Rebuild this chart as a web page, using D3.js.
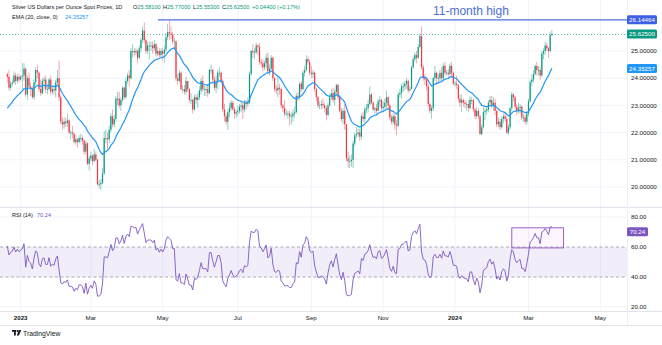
<!DOCTYPE html>
<html>
<head>
<meta charset="utf-8">
<script src="https://cdn.jsdelivr.net/npm/d3@7"></script>
<style>
  body { margin: 0; background: #ffffff; }
  svg { display: block; }
  text { font-family: "Liberation Sans", Arial, sans-serif; }
</style>
</head>
<body>
<svg id="chart" width="662" height="345"></svg>
<script>
// ---- Silver spot (XAG/USD), daily bars, one entry per weekday from 2022-12-21 ----
const startDate = "2022-12-21";
const firstOpen = 24.15;

const closes = [
  24.05,23.65,23.80,23.85,24.10,23.90,24.05,23.95,
  24.05,24.10,24.35,23.40,24.00,23.70,23.60,23.30,23.85,24.30,24.20,23.60,23.45,23.90,23.95,23.60,23.60,23.95,23.50,23.60,23.55,23.85,
  24.00,23.30,22.40,22.30,22.40,22.35,22.45,22.00,22.00,21.95,21.65,21.75,21.65,21.80,21.80,21.70,21.30,21.60,20.85,21.05,
  21.15,20.95,21.20,21.00,20.10,20.10,20.15,20.50,21.80,21.80,21.75,22.10,22.60,22.30,22.50,23.25,23.25,23.00,23.20,23.65,23.30,23.90,24.10,
  24.00,25.00,25.00,24.95,25.00,24.75,25.10,25.40,25.75,25.40,25.00,25.20,25.20,25.20,25.10,25.25,24.90,25.00,24.85,25.00,
  24.90,25.05,25.50,25.70,25.65,25.60,25.35,25.35,24.00,23.90,24.20,23.60,23.60,23.50,23.90,23.60,23.20,23.20,22.85,23.30,23.20,23.30,23.55,
  23.90,23.60,23.60,23.60,23.45,24.30,24.30,23.95,23.65,23.90,24.20,24.20,23.90,22.85,22.60,22.40,22.75,22.90,23.10,22.85,22.70,22.75,
  22.80,22.95,23.00,22.85,23.10,23.05,23.10,24.15,25.00,24.95,24.95,25.20,25.15,24.60,24.55,24.40,24.55,24.75,24.25,24.35,24.75,
  24.00,23.60,23.55,23.65,23.60,23.00,22.90,22.70,22.70,22.70,22.60,22.60,22.70,22.75,23.35,23.30,23.80,23.60,24.20,24.30,24.70,24.60,24.20,
  24.15,24.20,23.60,23.30,23.00,23.00,23.05,23.00,22.90,22.65,23.00,23.30,23.45,23.20,23.50,23.75,23.30,22.80,22.50,22.80,22.30,
  21.05,20.95,20.95,21.00,21.60,21.90,21.95,22.00,21.85,22.60,22.50,22.85,22.90,23.05,23.40,23.10,22.85,22.90,22.80,23.15,23.20,22.90,
  22.95,23.10,23.30,23.00,22.55,22.40,22.60,22.30,22.25,23.40,23.45,23.70,23.70,23.80,23.90,23.55,23.60,24.40,24.70,24.85,24.75,25.15,
  25.55,24.40,24.00,23.95,23.70,23.05,22.80,22.90,24.00,24.20,24.00,24.00,24.20,24.00,24.45,24.20,24.20,24.15,24.45,24.20,23.80,
  23.80,23.75,23.25,23.10,23.20,23.10,23.05,23.05,22.90,23.20,23.20,22.85,22.60,22.80,22.60,21.95,22.20,22.75,22.80,22.85,23.10,23.20,23.00,
  23.10,22.80,22.30,22.40,22.20,22.50,22.60,22.50,22.00,22.20,22.90,23.40,23.30,22.95,22.80,22.90,22.95,22.55,22.55,22.40,22.70,
  23.15,23.85,23.95,24.15,24.45,24.30,24.30,24.10,24.90,25.00,25.20,25.10,25.00,25.581,25.625
];

const highs = [
  24.20,24.30,23.90,23.95,24.25,24.20,24.15,24.15,
  24.10,24.55,24.55,24.40,24.10,24.20,23.85,23.70,23.95,24.40,24.50,24.25,23.95,24.00,24.05,24.10,23.80,24.00,24.10,23.75,23.75,23.95,
  24.30,24.65,23.40,22.55,22.55,22.55,22.70,22.50,22.10,22.25,22.00,21.90,21.80,21.90,21.95,21.90,21.75,21.70,21.65,21.15,
  21.30,21.20,21.40,21.30,21.05,20.25,20.30,20.70,22.05,22.10,22.00,22.25,22.70,22.85,22.65,23.35,23.50,23.50,23.30,23.70,23.70,24.00,24.20,
  24.30,25.10,25.25,25.10,25.10,25.05,25.20,25.50,25.90,26.05,25.45,25.35,25.35,25.35,25.35,25.40,25.30,25.15,25.10,25.10,
  25.10,25.20,25.65,26.00,26.14,25.90,25.70,25.50,25.40,24.15,24.30,24.25,23.75,23.75,24.05,23.90,23.65,23.45,23.25,23.40,23.40,23.45,23.70,
  24.00,24.10,23.75,23.70,23.80,24.35,24.50,24.35,24.05,24.10,24.30,24.40,24.25,23.95,23.05,22.70,22.85,23.10,23.20,23.15,22.95,22.85,
  23.00,23.05,23.15,23.10,23.20,23.20,23.30,24.25,25.05,25.25,25.10,25.30,25.25,25.30,24.70,24.70,24.65,24.90,24.95,24.50,24.85,
  24.80,24.05,23.75,24.05,23.80,23.65,23.05,23.20,22.85,22.80,22.80,22.75,22.85,22.95,23.45,23.50,23.85,23.90,24.30,24.45,24.85,24.80,24.70,
  24.45,24.30,24.25,23.65,23.35,23.15,23.20,23.25,23.10,23.00,23.10,23.45,23.60,23.65,23.60,23.80,23.80,23.35,22.90,22.90,23.05,
  22.30,21.30,21.15,21.20,21.70,22.00,22.20,22.15,22.15,22.70,22.75,22.95,23.05,23.20,23.70,23.45,23.15,22.95,23.05,23.25,23.35,23.25,
  23.15,23.25,23.55,23.35,23.05,22.65,22.70,22.70,22.45,23.50,23.60,23.80,23.85,23.90,24.00,23.95,23.70,24.45,24.80,24.95,25.00,25.25,
  25.65,25.90,24.50,24.15,24.05,23.80,23.10,23.00,24.05,24.45,24.25,24.15,24.30,24.40,24.55,24.60,24.30,24.35,24.55,24.60,24.25,
  23.90,24.10,23.80,23.40,23.40,23.25,23.20,23.15,23.20,23.35,23.30,23.25,22.90,22.95,22.90,22.65,22.30,22.95,22.90,22.95,23.20,23.35,23.35,
  23.30,23.25,22.85,22.55,22.50,22.60,22.70,22.75,22.60,22.30,22.95,23.50,23.45,23.35,23.05,23.10,23.05,23.00,22.70,22.65,22.80,
  23.25,23.95,24.15,24.30,24.50,24.60,24.45,24.40,25.00,25.10,25.35,25.30,25.15,25.70,25.77
];

const lows = [
  23.85,23.55,23.55,23.70,23.80,23.75,23.80,23.85,
  23.90,23.60,23.90,23.30,23.20,23.60,23.35,23.25,23.20,23.75,24.00,23.50,23.35,23.40,23.55,23.45,23.40,23.55,23.40,23.40,23.40,23.30,
  23.70,23.15,22.30,22.10,22.15,22.20,22.20,21.95,21.75,21.80,21.60,21.55,21.45,21.60,21.65,21.55,21.20,21.20,20.80,20.60,
  20.95,20.80,20.90,20.95,20.05,19.95,19.90,20.10,20.45,21.60,21.40,21.60,22.00,22.20,22.20,22.40,23.00,22.90,22.80,23.10,23.20,23.25,23.80,
  23.70,23.95,24.75,24.80,24.85,24.55,24.70,24.95,25.30,25.30,24.90,24.90,24.70,25.00,24.90,25.00,24.80,24.80,24.75,24.75,
  24.65,24.55,24.95,25.40,25.40,25.45,25.25,25.05,23.90,23.75,23.85,23.55,23.45,23.40,23.40,23.50,23.10,23.05,22.70,22.80,23.05,22.90,23.20,
  23.40,23.50,23.35,23.35,23.30,23.40,24.15,23.85,23.55,23.45,23.60,24.05,23.80,22.75,22.40,22.30,22.10,22.55,22.80,22.80,22.50,22.55,
  22.60,22.70,22.75,22.50,22.75,22.85,22.95,23.05,24.10,24.75,24.70,24.90,24.85,24.50,24.40,24.25,24.30,24.35,24.15,24.10,24.30,
  23.90,23.50,23.40,23.30,23.40,22.90,22.75,22.60,22.60,22.50,22.25,22.30,22.40,22.55,22.70,23.15,23.20,23.50,23.55,24.05,24.25,24.50,24.10,
  24.00,24.00,23.50,23.15,22.90,22.85,22.85,22.90,22.75,22.45,22.60,22.95,23.20,23.10,23.00,23.35,23.20,22.75,22.40,22.30,22.10,
  20.95,20.70,20.70,20.75,20.70,21.50,21.80,21.85,21.70,21.75,22.40,22.35,22.70,22.75,23.00,23.05,22.80,22.70,22.70,22.80,22.95,22.80,
  22.75,22.85,22.90,22.85,22.45,22.30,22.30,22.10,21.90,22.20,23.30,23.25,23.50,23.55,23.60,23.45,23.50,23.60,24.35,24.60,24.55,24.70,
  25.10,24.30,23.90,23.75,23.55,22.95,22.70,22.50,22.80,23.90,23.75,23.80,23.85,23.90,23.95,24.10,24.10,24.05,24.10,24.05,23.75,
  23.70,23.60,23.10,22.95,22.75,22.95,22.90,22.80,22.75,22.85,23.05,22.75,22.50,22.50,22.50,21.90,21.90,22.15,22.45,22.65,22.75,23.00,22.90,
  22.80,22.65,22.20,22.20,22.10,22.15,22.35,22.40,21.95,21.90,22.10,22.80,23.15,22.85,22.65,22.70,22.70,22.45,22.40,22.30,22.30,
  22.60,23.10,23.70,23.85,24.10,24.10,24.10,23.95,24.05,24.70,24.85,25.00,24.75,24.95,25.553
];

// Indicator starting state on the first bar
const emaLength = 20, emaSeed = 22.90;
const rsiLength = 14, rsiSeedGain = 0.17, rsiSeedLoss = 0.11;

// Axis ticks and labels
const priceTicks = [20, 21, 22, 23, 24, 25];
const rsiTicks = [20, 40, 60, 80];
const monthStarts = ["2023-01-02","2023-03-01","2023-05-01","2023-07-03","2023-09-01","2023-11-01","2024-01-01","2024-03-01","2024-05-01"];
const monthLabels = ["2023","Mar","May","Jul","Sep","Nov","2024","Mar","May"];
const yearLabels = ["2023","2024"];

// Legend / marker values
const legendTitle = "Silver US Dollars per Ounce Spot Prices, 1D";
const ohlcLegend = [["O","25.58100"],["H","25.77000"],["L","25.55300"],["C","25.62500"]];
const changeText = "+0.04400 (+0.17%)";
const highLevel = 26.14464, highLabel = "26.14464";
const lastPrice = 25.625, lastPriceLabel = "25.62500";
const emaLast = 24.35257, emaLastLabel = "24.35257";
const rsiLast = 70.24, rsiLastLabel = "70.24";
const annotation = "11-month high";
const boxRsi = { from: "2024-02-16", to: "2024-04-01", top: 72.8, bottom: 59.4 };

// ---- build bars ----
const parse = d3.utcParse("%Y-%m-%d"), fmt = d3.utcFormat("%Y-%m-%d");
const days = d3.utcDays(parse(startDate), parse("2024-06-01")).filter(d => d.getUTCDay() % 6 !== 0);
const dayIndex = new Map(days.map((d, i) => [fmt(d), i]));

const bars = closes.map((c, i) => {
  const o = i === 0 ? firstOpen : closes[i - 1];
  return { i, o, c, h: Math.max(highs[i], o, c), l: Math.min(lows[i], o, c) };
});

// EMA(20)
const ema = [];
closes.forEach((c, i) => {
  const k = 2 / (emaLength + 1);
  ema.push(i === 0 ? emaSeed : ema[i - 1] + k * (c - ema[i - 1]));
});

// RSI(14), Wilder smoothing
const rsi = [];
let ag = rsiSeedGain, al = rsiSeedLoss;
closes.forEach((c, i) => {
  if (i > 0) {
    const ch = c - closes[i - 1];
    ag = (ag * (rsiLength - 1) + Math.max(ch, 0)) / rsiLength;
    al = (al * (rsiLength - 1) + Math.max(-ch, 0)) / rsiLength;
  }
  rsi.push(100 - 100 / (1 + ag / al));
});

// ---- layout ----
const W = 662, H = 345;
const plotR = 627, mainBottom = 207, rsiBottom = 311, axisBottom = 325;
const x = d3.scaleLinear().domain([0, 355]).range([7.3, 600.3]);
const y = d3.scaleLinear().domain([20, 25]).range([187, 51]);
const yr = d3.scaleLinear().domain([20, 80]).range([307, 217]);

const UP = "#089981", DOWN = "#f23645", TXT = "#131722", GRID = "#f0f3fa";
const svg = d3.select("#chart");
const defs = svg.append("defs");
defs.append("clipPath").attr("id", "clipMain").append("rect").attr("x", 0).attr("y", 0).attr("width", plotR).attr("height", mainBottom);
defs.append("clipPath").attr("id", "clipRsi").append("rect").attr("x", 0).attr("y", mainBottom).attr("width", plotR).attr("height", rsiBottom - mainBottom);

// grid
const tickIdx = monthStarts.map(s => dayIndex.get(s));
svg.append("g").selectAll("line").data(tickIdx).join("line")
  .attr("x1", d => x(d)).attr("x2", d => x(d)).attr("y1", 0).attr("y2", rsiBottom)
  .attr("stroke", GRID).attr("stroke-width", 1);
svg.append("g").selectAll("line").data(priceTicks).join("line")
  .attr("x1", 0).attr("x2", plotR).attr("y1", d => y(d)).attr("y2", d => y(d))
  .attr("stroke", GRID).attr("stroke-width", 1);
svg.append("g").selectAll("line").data(rsiTicks.filter(t => t === 80 || t === 20)).join("line")
  .attr("x1", 0).attr("x2", plotR).attr("y1", d => yr(d)).attr("y2", d => yr(d))
  .attr("stroke", GRID).attr("stroke-width", 1);

// pane separators
const sep = svg.append("g").attr("stroke", "#e0e3eb").attr("stroke-width", 1);
sep.append("line").attr("x1", 0).attr("x2", W).attr("y1", mainBottom + 0.5).attr("y2", mainBottom + 0.5);
sep.append("line").attr("x1", 0).attr("x2", W).attr("y1", rsiBottom + 0.5).attr("y2", rsiBottom + 0.5);
sep.append("line").attr("x1", 0).attr("x2", W).attr("y1", axisBottom + 0.5).attr("y2", axisBottom + 0.5);
sep.append("line").attr("x1", plotR + 0.5).attr("x2", plotR + 0.5).attr("y1", 0).attr("y2", axisBottom).attr("stroke", "#eef0f4");

// ---- main pane ----
const main = svg.append("g").attr("clip-path", "url(#clipMain)");

// 11-month high level
main.append("line").attr("x1", 158).attr("x2", plotR).attr("y1", y(highLevel)).attr("y2", y(highLevel))
  .attr("stroke", "#4f6fe0").attr("stroke-width", 1.3);
// last price line
main.append("line").attr("x1", 0).attr("x2", plotR).attr("y1", Math.round(y(lastPrice)) + 0.5).attr("y2", Math.round(y(lastPrice)) + 0.5)
  .attr("stroke", UP).attr("stroke-width", 0.8).attr("stroke-dasharray", "1,2").attr("opacity", 0.8);

// candles
const cg = main.append("g");
cg.selectAll("line").data(bars).join("line")
  .attr("x1", d => x(d.i)).attr("x2", d => x(d.i))
  .attr("y1", d => y(d.h)).attr("y2", d => y(d.l))
  .attr("stroke", d => d.c >= d.o ? UP : DOWN).attr("stroke-width", 0.6).attr("opacity", 0.75);
cg.selectAll("rect").data(bars).join("rect")
  .attr("x", d => x(d.i) - 0.6).attr("width", 1.2)
  .attr("y", d => y(Math.max(d.o, d.c)))
  .attr("height", d => Math.max(0.8, Math.abs(y(d.o) - y(d.c))))
  .attr("fill", d => d.c >= d.o ? UP : DOWN);

// EMA line
main.append("path").datum(ema)
  .attr("d", d3.line().x((d, i) => x(i)).y(d => y(d)))
  .attr("fill", "none").attr("stroke", "#2196f3").attr("stroke-width", 1.2);

// annotation
svg.append("text").attr("x", 433).attr("y", 14.5).attr("font-size", 12).attr("fill", "#4c6fd3").text(annotation);

// ---- RSI pane ----
const rp = svg.append("g").attr("clip-path", "url(#clipRsi)");
rp.append("rect").attr("x", 0).attr("width", plotR).attr("y", yr(60)).attr("height", yr(40) - yr(60))
  .attr("fill", "#7e57c2").attr("fill-opacity", 0.1);
rp.selectAll("line.band").data([60, 40]).join("line").attr("class", "band")
  .attr("x1", 0).attr("x2", plotR).attr("y1", d => yr(d)).attr("y2", d => yr(d))
  .attr("stroke", "#9598a1").attr("stroke-width", 0.8).attr("stroke-dasharray", "3,2.5");
rp.append("path").datum(rsi)
  .attr("d", d3.line().x((d, i) => x(i)).y(d => yr(d)))
  .attr("fill", "none").attr("stroke", "#7e57c2").attr("stroke-width", 0.9);
// highlight box
rp.append("rect")
  .attr("x", x(dayIndex.get(boxRsi.from))).attr("width", x(dayIndex.get(boxRsi.to)) - x(dayIndex.get(boxRsi.from)))
  .attr("y", yr(boxRsi.top)).attr("height", yr(boxRsi.bottom) - yr(boxRsi.top))
  .attr("fill", "#9c27b0").attr("fill-opacity", 0.04).attr("stroke", "#a160c8").attr("stroke-width", 1);

// ---- right scales ----
const fs = 6.2;
const ax = svg.append("g").attr("font-size", fs).attr("fill", TXT);
ax.selectAll("text.p").data(priceTicks).join("text").attr("class", "p")
  .attr("x", 631).attr("y", d => y(d)).attr("dy", "0.35em").text(d => d.toFixed(5));
ax.selectAll("text.r").data(rsiTicks).join("text").attr("class", "r")
  .attr("x", 631).attr("y", d => yr(d)).attr("dy", "0.35em").text(d => d.toFixed(2));

function tag(v, label, color, yScale, w) {
  const g = svg.append("g");
  const yy = yScale(v);
  g.append("rect").attr("x", 627).attr("y", yy - 4.5).attr("width", w).attr("height", 9).attr("rx", 1.5).attr("fill", color);
  g.append("text").attr("x", 627 + w / 2).attr("y", yy).attr("dy", "0.35em").attr("text-anchor", "middle")
    .attr("font-size", fs).attr("fill", "#ffffff").text(label);
}
tag(highLevel, highLabel, "#3f5ee6", y, 30);
tag(lastPrice, lastPriceLabel, UP, y, 30);
tag(emaLast, emaLastLabel, "#2196f3", y, 30);
tag(rsiLast, rsiLastLabel, "#7e57c2", yr, 21);

// ---- time axis ----
svg.append("g").attr("font-size", fs).attr("fill", TXT).selectAll("text").data(tickIdx).join("text")
  .attr("x", d => x(d)).attr("y", 320).attr("text-anchor", "middle")
  .attr("font-weight", (d, i) => yearLabels.includes(monthLabels[i]) ? "bold" : "normal")
  .text((d, i) => monthLabels[i]);

// ---- legends ----
const lfs = 5.6;
const lg = svg.append("text").attr("x", 12).attr("y", 9).attr("font-size", lfs).attr("fill", TXT);
lg.append("tspan").text(legendTitle);
const ohlcX = [133, 163, 193, 222];
ohlcLegend.forEach(([k, v], i) => {
  lg.append("tspan").attr("x", ohlcX[i]).attr("fill", TXT).text(k);
  lg.append("tspan").attr("fill", UP).text(v);
});
lg.append("tspan").attr("x", 252).attr("fill", UP).text(changeText);

const el = svg.append("text").attr("x", 12).attr("y", 18.5).attr("font-size", lfs).attr("fill", TXT);
el.append("tspan").text("EMA (20, close, 0)");
el.append("tspan").attr("x", 65).attr("fill", "#2196f3").text(emaLastLabel);

const rl = svg.append("text").attr("x", 12).attr("y", 217).attr("font-size", lfs).attr("fill", TXT);
rl.append("tspan").text("RSI (14)");
rl.append("tspan").attr("x", 37).attr("fill", "#7e57c2").text(rsiLastLabel);

// ---- footer brand ----
const logo = svg.append("g").attr("fill", TXT);
logo.append("rect").attr("x", 12).attr("y", 330).attr("width", 4.2).attr("height", 1.8);
logo.append("rect").attr("x", 14).attr("y", 330).attr("width", 1.8).attr("height", 5.5);
logo.append("circle").attr("cx", 17.6).attr("cy", 331).attr("r", 0.95);
logo.append("path").attr("d", "M18.8,330 L21.2,330 L18.9,335.5 L16.8,335.5 Z");
svg.append("text").attr("x", 23).attr("y", 335.5).attr("font-size", 6.8).attr("fill", TXT).text("TradingView");
</script>
</body>
</html>
